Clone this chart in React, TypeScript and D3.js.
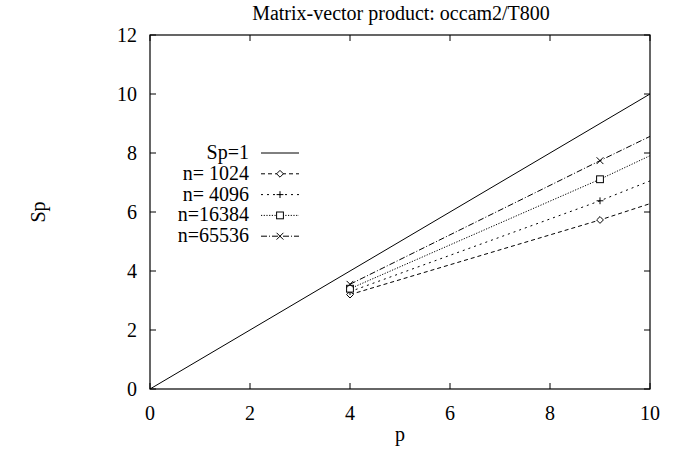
import React from "react";
import * as d3 from "d3";

const title = "Matrix-vector product: occam2/T800";
const xTicks = [0, 2, 4, 6, 8, 10];
const yTicks = [0, 2, 4, 6, 8, 10, 12];
const pValues = [4, 9, 16];
const sp1024 = [3.2, 5.73, 9.6];
const sp4096 = [3.3, 6.38, 11.1];
const sp16384 = [3.4, 7.11, 12.7];
const sp65536 = [3.55, 7.74, 13.5];
const idealP = [0, 10];
const seriesNames = ["n= 1024", "n= 4096", "n=16384", "n=65536"];
const seriesMarkers = ["diamond", "plus", "square", "cross"];
const seriesDash = ["4,3", "2,4", "1.2,1.5", "6,2,1,2"];

const W = 675, H = 450;
const M = { left: 150, right: 25, top: 35, bottom: 61 };
const FONT = "'Liberation Serif', 'Times New Roman', serif";
const FS = 20;

function Marker({ kind, x, y }: { kind: string; x: number; y: number }) {
  const s = 3.4;
  if (kind === "diamond")
    return <path d={`M${x},${y - s}L${x + s},${y}L${x},${y + s}L${x - s},${y}Z`} fill="white" stroke="black" strokeWidth={1} />;
  if (kind === "plus")
    return <path d={`M${x - s},${y}H${x + s}M${x},${y - s}V${y + s}`} stroke="black" strokeWidth={1} />;
  if (kind === "square")
    return <rect x={x - s} y={y - s} width={2 * s} height={2 * s} fill="white" stroke="black" strokeWidth={1} />;
  return <path d={`M${x - s},${y - s}L${x + s},${y + s}M${x - s},${y + s}L${x + s},${y - s}`} stroke="black" strokeWidth={1} />;
}

export default function App() {
  const x = d3.scaleLinear().domain([0, 10]).range([M.left, W - M.right]);
  const y = d3.scaleLinear().domain([0, 12]).range([H - M.bottom, M.top]);
  const series = [sp1024, sp4096, sp16384, sp65536];
  const line = d3.line<[number, number]>().x((d) => x(d[0])).y((d) => y(d[1]));
  const tick = 6;
  const legendRows = [0, 1, 2, 3, 4].map((i) => 153 + i * 20.8);
  const lx0 = 261, lx1 = 299, ltx = 249;
  return (
    <svg width={W} height={H} style={{ position: "absolute", left: 0, top: 0, background: "white" }} fontFamily={FONT}>
      <defs>
        <clipPath id="plotclip">
          <rect x={x(0)} y={y(12)} width={x(10) - x(0)} height={y(0) - y(12)} />
        </clipPath>
      </defs>
      <text x={401} y={20} textAnchor="middle" fontSize={FS}>{title}</text>
      {xTicks.map((t) => (
        <g key={"x" + t}>
          <line x1={x(t)} x2={x(t)} y1={y(0)} y2={y(0) - tick} stroke="black" />
          <line x1={x(t)} x2={x(t)} y1={y(12)} y2={y(12) + tick} stroke="black" />
          <text x={x(t)} y={y(0) + 31} textAnchor="middle" fontSize={FS}>{t}</text>
        </g>
      ))}
      {yTicks.map((t) => (
        <g key={"y" + t}>
          <line x1={x(0)} x2={x(0) + tick} y1={y(t)} y2={y(t)} stroke="black" />
          <line x1={x(10)} x2={x(10) - tick} y1={y(t)} y2={y(t)} stroke="black" />
          <text x={x(0) - 13} y={y(t) + 7} textAnchor="end" fontSize={FS}>{t}</text>
        </g>
      ))}
      <text x={400} y={441} textAnchor="middle" fontSize={FS}>p</text>
      <text transform="translate(45,212) rotate(-90)" textAnchor="middle" fontSize={FS}>Sp</text>
      <g clipPath="url(#plotclip)">
        <path d={line(idealP.map((p) => [p, p]) as [number, number][]) || ""} fill="none" stroke="black" strokeWidth={1} />
        {series.map((s, i) => (
          <g key={i}>
            <path d={line(pValues.map((p, j) => [p, s[j]]) as [number, number][]) || ""} fill="none" stroke="black" strokeWidth={1} strokeDasharray={seriesDash[i]} />
            {pValues.map((p, j) => (
              <Marker key={j} kind={seriesMarkers[i]} x={x(p)} y={y(s[j])} />
            ))}
          </g>
        ))}
      </g>
      <rect x={x(0)} y={y(12)} width={x(10) - x(0)} height={y(0) - y(12)} fill="none" stroke="black" strokeWidth={1.2} />
      <g fontSize={FS}>
        <text x={ltx} y={legendRows[0] + 6} textAnchor="end">Sp=1</text>
        <line x1={lx0} x2={lx1} y1={legendRows[0]} y2={legendRows[0]} stroke="black" />
        {seriesNames.map((n, i) => (
          <g key={n}>
            <text x={ltx} y={legendRows[i + 1] + 6} textAnchor="end">{n}</text>
            <line x1={lx0} x2={lx1} y1={legendRows[i + 1]} y2={legendRows[i + 1]} stroke="black" strokeDasharray={seriesDash[i]} />
            <Marker kind={seriesMarkers[i]} x={(lx0 + lx1) / 2} y={legendRows[i + 1]} />
          </g>
        ))}
      </g>
    </svg>
  );
}
